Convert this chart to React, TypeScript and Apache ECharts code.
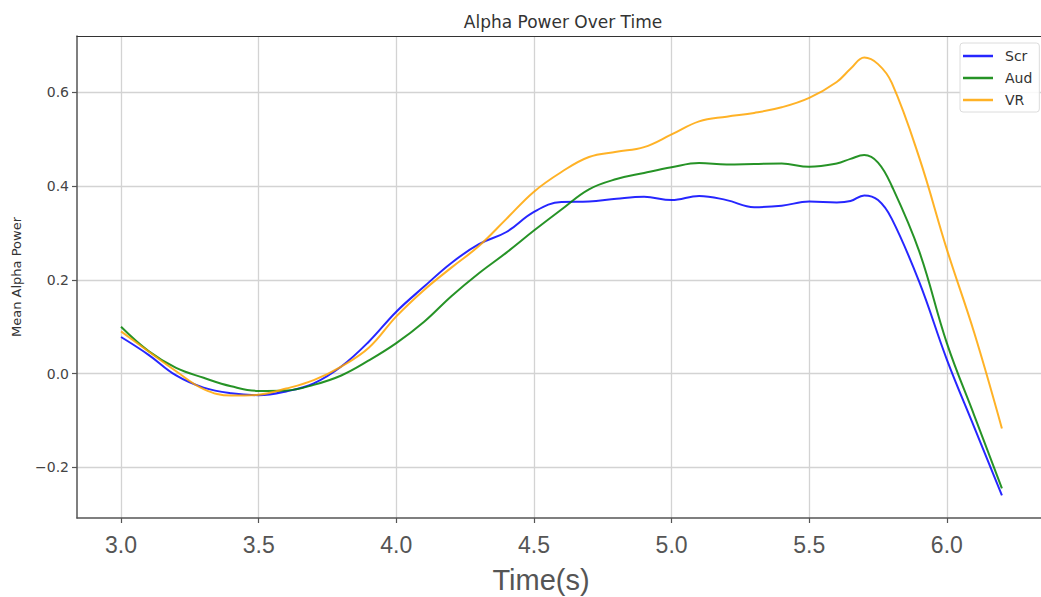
import React, { useEffect, useRef } from "react";
import * as echarts from "echarts";

// Time axis samples (seconds)
const times = [
  3.0, 3.1, 3.2, 3.3, 3.4, 3.5, 3.6, 3.7, 3.8, 3.9, 4.0, 4.1, 4.2, 4.3, 4.4,
  4.5, 4.6, 4.7, 4.8, 4.9, 5.0, 5.1, 5.2, 5.3, 5.4, 5.5, 5.6, 5.65, 5.7, 5.75,
  5.8, 5.9, 6.0, 6.1, 6.2,
];

// Mean alpha power per condition
const scr = [
  0.078, 0.04, -0.004, -0.03, -0.042, -0.046, -0.038, -0.021, 0.015, 0.068,
  0.132, 0.185, 0.236, 0.276, 0.302, 0.345, 0.366, 0.367, 0.373, 0.377, 0.37,
  0.379, 0.37, 0.355, 0.358, 0.367, 0.365, 0.368, 0.38, 0.37, 0.33, 0.195,
  0.03, -0.115, -0.26,
];
const aud = [
  0.1, 0.048, 0.012, -0.009, -0.027, -0.037, -0.036, -0.024, -0.004, 0.028,
  0.065, 0.11, 0.165, 0.214, 0.258, 0.305, 0.35, 0.393, 0.415, 0.428, 0.44,
  0.449, 0.446, 0.447, 0.448, 0.441, 0.448, 0.458, 0.466, 0.45, 0.4, 0.26,
  0.065, -0.09, -0.245,
];
const vr = [
  0.09, 0.047, 0.005, -0.033, -0.047, -0.045, -0.032, -0.014, 0.015, 0.055,
  0.122, 0.178, 0.226, 0.272, 0.33, 0.388, 0.43, 0.462, 0.473, 0.483, 0.51,
  0.538, 0.548, 0.556, 0.568, 0.588, 0.622, 0.65, 0.674, 0.66, 0.62, 0.46,
  0.265, 0.086, -0.117,
];

const xTicks = [3.0, 3.5, 4.0, 4.5, 5.0, 5.5, 6.0];
const yTicks = [-0.2, 0.0, 0.2, 0.4, 0.6];

const seriesDefs = [
  { name: "Scr", values: scr, color: "rgba(0,0,255,0.85)" },
  { name: "Aud", values: aud, color: "rgba(0,128,0,0.85)" },
  { name: "VR", values: vr, color: "rgba(255,165,0,0.85)" },
];

const gridColor = "#d3d3d3";
const spineColor = "#555";

export default function App() {
  const ref = useRef<HTMLDivElement>(null);

  useEffect(() => {
    if (!ref.current) return;
    const chart = echarts.init(ref.current, null, { renderer: "svg" });

    chart.setOption({
      animation: false,
      backgroundColor: "#ffffff",
      title: {
        text: "Alpha Power Over Time",
        left: 558,
        top: 8,
        textAlign: "center",
        textStyle: {
          fontFamily: "DejaVu Sans",
          fontSize: 17,
          fontWeight: "normal",
          color: "#333",
        },
      },
      legend: {
        orient: "vertical",
        left: 960,
        top: 43,
        padding: [2, 7, 1, 3],
        itemGap: 0,
        itemWidth: 30,
        itemHeight: 2.5,
        icon: "rect",
        backgroundColor: "rgba(255,255,255,0.85)",
        borderColor: "#dcdcdc",
        borderWidth: 1,
        borderRadius: 3,
        textStyle: {
          fontFamily: "DejaVu Sans",
          fontSize: 14,
          color: "#333",
          lineHeight: 22,
          padding: [0, 0, 0, 7],
        },
        data: seriesDefs.map((s) => s.name),
      },
      grid: {
        left: 77,
        top: 36,
        right: 0,
        bottom: 79,
        containLabel: false,
        outerBoundsMode: "none",
      },
      xAxis: [
        {
          type: "value",
          min: 2.84,
          max: 6.342,
          name: "Time(s)",
          nameLocation: "middle",
          nameGap: 47,
          nameTextStyle: {
            fontFamily: "Liberation Sans",
            fontSize: 29,
            color: "#555",
            padding: [0, 36, 0, 0],
          },
          axisLine: {
            show: true,
            onZero: false,
            lineStyle: { color: spineColor, width: 1.5 },
          },
          axisTick: {
            show: true,
            customValues: xTicks,
            length: 5,
            lineStyle: { color: spineColor, width: 1.2 },
          },
          axisLabel: {
            customValues: xTicks,
            formatter: (v: number) => v.toFixed(1),
            fontFamily: "Liberation Sans",
            fontSize: 23,
            color: "#555",
            margin: 15,
          },
          splitLine: {
            show: true,
            lineStyle: { color: gridColor, width: 1.3 },
          },
        },
        {
          type: "value",
          position: "top",
          min: 2.84,
          max: 6.342,
          axisLine: {
            show: true,
            onZero: false,
            lineStyle: { color: "#333", width: 1.2 },
          },
          axisTick: { show: false },
          axisLabel: { show: false },
          splitLine: { show: false },
        },
      ],
      yAxis: {
        type: "value",
        min: -0.308,
        max: 0.72,
        name: "Mean Alpha Power",
        nameLocation: "middle",
        nameGap: 54,
        nameTextStyle: {
          fontFamily: "DejaVu Sans",
          fontSize: 13,
          color: "#333",
        },
        axisLine: {
          show: true,
          onZero: false,
          lineStyle: { color: spineColor, width: 1.5 },
        },
        axisTick: {
          show: true,
          customValues: yTicks,
          length: 5,
          lineStyle: { color: spineColor, width: 1.2 },
        },
        axisLabel: {
          customValues: yTicks,
          formatter: (v: number) =>
            (v < 0 ? "\u2212" : "") + Math.abs(v).toFixed(1),
          fontFamily: "DejaVu Sans",
          fontSize: 14,
          color: "#444",
          margin: 8,
        },
        splitLine: {
          show: true,
          lineStyle: { color: gridColor, width: 1.3 },
        },
      },
      series: seriesDefs.map((s) => ({
        name: s.name,
        type: "line",
        xAxisIndex: 0,
        data: times.map((t, i) => [t, s.values[i]]),
        smooth: 0.4,
        showSymbol: false,
        symbol: "none",
        color: s.color,
        lineStyle: { color: s.color, width: 2 },
      })),
    });

    return () => chart.dispose();
  }, []);

  return (
    <div
      ref={ref}
      style={{ position: "fixed", left: 0, top: 0, width: 1041, height: 597 }}
    />
  );
}
